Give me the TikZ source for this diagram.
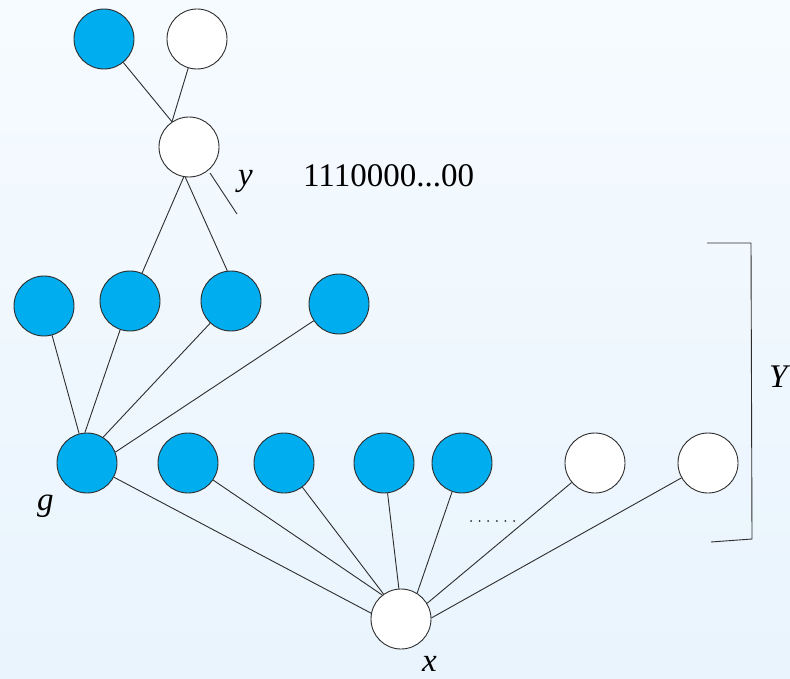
\documentclass[tikz,border=0pt]{standalone}
\usepackage{fontspec}
\setmainfont{Liberation Serif}
\usepackage{tikz}

\definecolor{bitblue}{RGB}{0,174,239}
\definecolor{linegray}{RGB}{45,45,45}

\begin{document}
\begin{tikzpicture}[x=1pt,y=-1pt,
    bit/.style={circle,draw=linegray,line width=0.9pt,minimum size=60pt,inner sep=0pt},
    one/.style={bit,fill=bitblue},
    zero/.style={bit,fill=white},
    lbl/.style={inner sep=0pt,font=\fontsize{33}{40}\selectfont},
    wire/.style={draw=linegray,line width=0.9pt}]
    \shade[top color={rgb,255:red,246;green,251;blue,255},bottom color={rgb,255:red,233;green,244;blue,253}] (0,0) rectangle (790,679);
    \useasboundingbox (0,0) rectangle (790,679);
    \node[one] (a) at (104, 39) {};
    \node[zero] (b) at (197, 39) {};
    \node[zero] (y) at (189, 147) {};
    \node[one] (c1) at (44, 306) {};
    \node[one] (c2) at (130, 301) {};
    \node[one] (c3) at (231, 301) {};
    \node[one] (c4) at (339, 304) {};
    \node[one] (g) at (87, 463) {};
    \node[one] (d2) at (188, 463) {};
    \node[one] (d3) at (284, 463) {};
    \node[one] (d4) at (384, 463) {};
    \node[one] (d5) at (462, 463) {};
    \node[zero] (d6) at (595, 463) {};
    \node[zero] (d7) at (708, 463) {};
    \node[zero] (x) at (401, 619) {};
    \node[lbl,anchor=base west] (ylbl) at (238, 186) {\textit{y}};
    \node[lbl,anchor=base west] (code) at (303, 187) {1110000...00};
    \node[lbl,anchor=base west] (glbl) at (37, 510) {\textit{g}};
    \node[lbl,anchor=base west] (xlbl) at (422, 671) {\textit{x}};
    \node[lbl,anchor=base west] (Ylbl) at (769, 387) {\textit{Y}};
    \coordinate (ya) at (210, 173);
    \coordinate (yb) at (237, 214);
    \coordinate (br1) at (707, 243);
    \coordinate (br2) at (751, 243);
    \coordinate (br3) at (752, 539);
    \coordinate (br4) at (711, 542);
    \draw[wire] (a) -- (y.124);
    \draw[wire] (b) -- (y.124);
    \draw[wire] (ya) -- (yb);
    \draw[wire] (y.-100) -- (c2);
    \draw[wire] (y.-97) -- (c3.97);
    \draw[wire] (g.105) -- (c1);
    \draw[wire] (g.94) -- (c2);
    \draw[wire] (g.58) -- (c3);
    \draw[wire] (g.21) -- (c4);
    \draw[wire] (g) -- (x.169);
    \draw[wire] (d2) -- (x.128);
    \draw[wire] (d3) -- (x.125);
    \draw[wire] (d4) -- (x.94);
    \draw[wire] (d5) -- (x.58);
    \draw[wire] (d6) -- (x.31);
    \draw[wire] (d7) -- (x.2);
    \draw[wire] (br1) -- (br2) -- (br3) -- (br4);
    \foreach \i in {0,...,5}
      \fill[linegray] (471+8.6*\i, 521) circle (1pt);
\end{tikzpicture}
\end{document}
